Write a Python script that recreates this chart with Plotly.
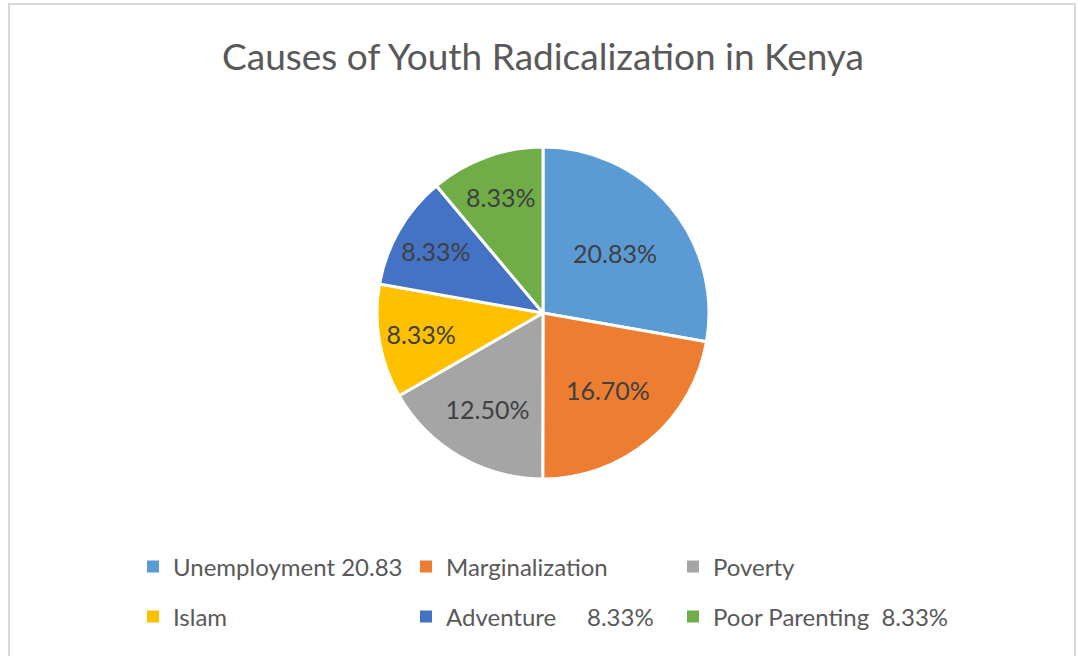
import plotly.graph_objects as go

categories = ["Unemployment 20.83", "Marginalization", "Poverty", "Islam",
              "Adventure     8.33%", "Poor Parenting  8.33%"]
values = [20.83, 16.70, 12.50, 8.33, 8.33, 8.33]
colors = ["#5B9BD5", "#ED7D31", "#A5A5A5", "#FFC000", "#4472C4", "#70AD47"]

W, H = 1078, 656
cx, cy, r = 543, 313, 166

# legend grid: 3 columns x 2 rows (pixel positions of each entry box)
legend_cols_px = [133, 406, 673]
legend_rows_px = [567, 617]

fig = go.Figure()
fig.add_trace(go.Pie(
    labels=categories,
    values=values,
    sort=False,
    direction="clockwise",
    rotation=0,
    marker=dict(colors=colors, line=dict(color="white", width=3)),
    texttemplate="%{value:.2f}%",
    textposition="inside",
    insidetextorientation="horizontal",
    textfont=dict(family="Lato", size=25, color="#404040"),
    domain=dict(x=[(cx - r) / W, (cx + r) / W], y=[(H - cy - r) / H, (H - cy + r) / H]),
    hoverinfo="label+value",
    showlegend=False,
))

layout_legends = {}
for i, (name, col) in enumerate(zip(categories, colors)):
    key = "legend" if i == 0 else f"legend{i + 1}"
    fig.add_trace(go.Scatter(
        x=[None], y=[None], mode="markers", name=name, legend=key,
        marker=dict(symbol="square", size=9, color=col),
        hoverinfo="skip",
    ))
    layout_legends[key] = dict(
        orientation="h",
        x=legend_cols_px[i % 3] / W, xanchor="left",
        y=1 - legend_rows_px[i // 3] / H, yanchor="middle",
        bgcolor="rgba(0,0,0,0)",
        font=dict(family="Lato", size=24, color="#595959"),
        itemsizing="constant",
    )

fig.update_layout(
    width=W, height=H,
    margin=dict(l=0, r=0, t=0, b=0, autoexpand=False),
    paper_bgcolor="white",
    plot_bgcolor="white",
    xaxis=dict(visible=False),
    yaxis=dict(visible=False),
    title=dict(text="Causes of Youth Radicalization in Kenya", x=543 / W, xanchor="center",
               y=1 - 57 / H, yanchor="middle", yref="container",
               font=dict(family="Lato", size=37, color="#595959")),
    showlegend=True,
    shapes=[dict(type="rect", xref="paper", yref="paper",
                 x0=9 / W, x1=1075 / W, y0=-0.02, y1=1 - 4 / H,
                 line=dict(color="#D9D9D9", width=2), fillcolor="rgba(0,0,0,0)")],
    **layout_legends,
)

fig.write_html("out.html")
